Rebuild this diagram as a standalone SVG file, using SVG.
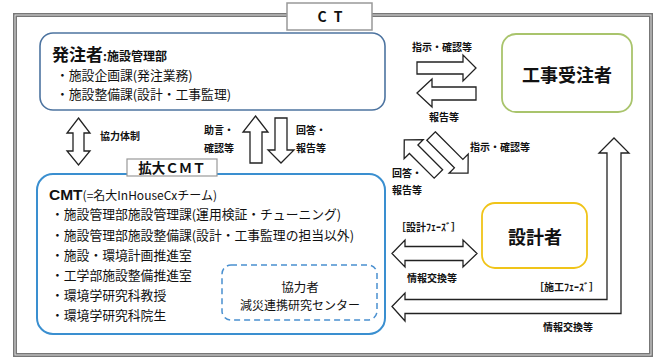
<svg xmlns="http://www.w3.org/2000/svg" width="660" height="358" viewBox="0 0 660 358">
<style>
text{font-family:"Noto Sans CJK JP","Noto Sans",sans-serif;fill:#111}
.lbl{font-size:10px;font-weight:bold}
.item{font-size:12.8px}
.arr{fill:#fff;stroke:#222;stroke-width:1.3;stroke-linejoin:miter}
.big{font-size:18px;font-weight:bold}
</style>
<rect width="660" height="358" fill="#fff"/>
<g id="frame">
<rect x="15" y="15" width="636" height="340" fill="none" stroke="#777" stroke-width="4"/>
<rect x="15" y="15" width="636" height="340" fill="none" stroke="#ddd" stroke-width="1"/>
<rect x="287" y="3" width="85" height="27" fill="#fff" stroke="#999" stroke-width="1.5"/>
<text x="331" y="22" font-size="14" font-weight="bold" text-anchor="middle" letter-spacing="2">C T</text>
</g>
<g id="owner">
<rect x="40" y="33" width="345" height="77" rx="13" fill="#fff" stroke="#4d74a0" stroke-width="1.6"/>
<text x="52" y="61"><tspan font-size="17" font-weight="bold">発注者</tspan><tspan font-size="12" font-weight="bold">:施設管理部</tspan></text>
<text class="item" x="56" y="79.5" font-size="13">・施設企画課(発注業務)</text>
<text class="item" x="56" y="98.5" font-size="13">・施設整備課(設計・工事監理)</text>
</g>
<g id="contractor">
<rect x="502" y="34" width="130" height="78" rx="14" fill="#fff" stroke="#a9c46c" stroke-width="1.8"/>
<text class="big" x="567" y="82" text-anchor="middle">工事受注者</text>
</g>
<g id="designer">
<rect x="482" y="203" width="105" height="65" rx="13" fill="#fff" stroke="#f0c419" stroke-width="1.8"/>
<text class="big" x="535" y="244" text-anchor="middle">設計者</text>
</g>
<g id="cmt">
<rect x="37" y="174" width="348" height="160" rx="16" fill="#fff" stroke="#3a8fd0" stroke-width="2"/>
<rect x="127" y="159" width="90" height="17" fill="#fff" stroke="#999" stroke-width="1.2"/>
<text x="172" y="172.5" font-size="13.5" font-weight="bold" text-anchor="middle">拡大ＣＭＴ</text>
<text x="49" y="199.5"><tspan font-size="15.5" font-weight="bold" font-family="Liberation Sans, Arial, sans-serif">CMT</tspan><tspan font-size="12">(=名大InHouseCxチーム)</tspan></text>
<text class="item" x="51" y="218.5">・施設管理部施設管理課(運用検証・チューニング)</text>
<text class="item" x="51" y="239.5">・施設管理部施設整備課(設計・工事監理の担当以外)</text>
<text class="item" x="51" y="259.5">・施設・環境計画推進室</text>
<text class="item" x="51" y="279.5">・工学部施設整備推進室</text>
<text class="item" x="51" y="299.5">・環境学研究科教授</text>
<text class="item" x="51" y="319.5">・環境学研究科院生</text>
</g>
<g id="partner">
<rect x="222" y="265" width="155" height="55" rx="9" fill="#fff" stroke="#4a90d0" stroke-width="1.5" stroke-dasharray="6 4"/>
<text x="300" y="291.5" font-size="12.5" text-anchor="middle">協力者</text>
<text x="300" y="309.5" font-size="12" text-anchor="middle">減災連携研究センター</text>
</g>
<g id="connectors">
<polygon class="arr" points="78.5,118 90,133 84,133 84,151 90,151 78.5,165 67,151 73,151 73,133 67,133"/>
<text class="lbl" x="100" y="139.5">協力体制</text>
<polygon class="arr" points="255.5,116 268,132 262,132 262,163 250,163 250,132 243,132"/>
<text class="lbl" x="204" y="134">助言・</text>
<text class="lbl" x="204" y="152">確認等</text>
<polygon class="arr" points="275,118 287,118 287,150 294,150 281,163 268,150 275,150"/>
<text class="lbl" x="296" y="134">回答・</text>
<text class="lbl" x="296" y="152">報告等</text>
<polygon class="arr" points="417,62 463,62 463,55 476,68 463,81 463,74 417,74"/>
<polygon class="arr" points="417,93 432,79 432,87 476,87 476,100 432,100 432,107"/>
<text class="lbl" x="442" y="51" text-anchor="middle">指示・確認等</text>
<text class="lbl" x="444" y="121" text-anchor="middle">報告等</text>
<g transform="rotate(45)">
<polygon class="arr" points="384.7,-187 398,-200.5 398,-193 433,-193 433,-181 398,-181 398,-173.5"/>
<polygon class="arr" points="401,-214.6 440,-214.6 440,-222.1 453.3,-208.6 440,-195.1 440,-202.6 401,-202.6"/>
</g>
<text class="lbl" x="470" y="151">指示・確認等</text>
<text class="lbl" x="392" y="177">回答・</text>
<text class="lbl" x="392" y="194">報告等</text>
<polygon class="arr" points="392,253.5 405,240 405,246.5 463,246.5 463,240 477,253.5 463,267 463,260.5 405,260.5 405,267"/>
<text class="lbl" x="396" y="231" font-weight="normal">［設計ﾌｪｰｽﾞ］</text>
<text class="lbl" x="432" y="282" text-anchor="middle">情報交換等</text>
<polygon class="arr" points="392,306.5 405,293 405,299.5 607,299.5 607,153 599,153 614,138 629,153 621,153 621,313.5 405,313.5 405,321"/>
<text class="lbl" x="534" y="291" font-weight="normal">［施工ﾌｪｰｽﾞ］</text>
<text class="lbl" x="568" y="331" text-anchor="middle">情報交換等</text>
</g>
</svg>
